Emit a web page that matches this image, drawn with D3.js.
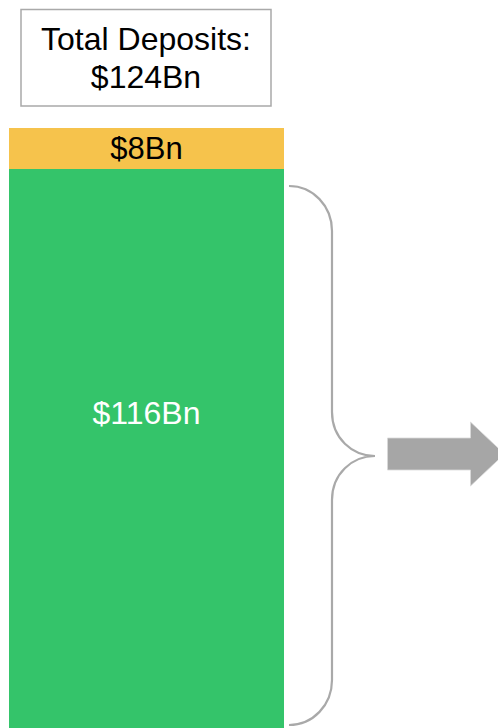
<!DOCTYPE html>
<html>
<head>
<meta charset="utf-8">
<script src="https://cdn.jsdelivr.net/npm/d3@7"></script>
<style>
  html, body { margin: 0; padding: 0; background: #fff; }
  svg { display: block; font-family: Arial, "Liberation Sans", sans-serif; }
</style>
</head>
<body>
<script>
// Data
const categories = ["Other deposits", "Core deposits"];
const values = [8, 116];
const labels = ["$8Bn", "$116Bn"];
const totalLabel = ["Total Deposits:", "$124Bn"];
const colors = ["#F6C34C", "#34C46A"];
const labelColors = ["#000000", "#ffffff"];

(function () {
const W = 498, H = 728;
const svg = d3.select("body").append("svg").attr("width", W).attr("height", H);

const total = d3.sum(values);
const x = d3.scaleBand().domain(["Deposits"]).range([9, 284]).padding(0);
const pxPerUnit = 41 / 8;
const y = d3.scaleLinear().domain([0, total]).range([128, 128 + total * pxPerUnit]);

// stacked segments
let acc = 0;
const segs = values.map((v, i) => { const s = { cat: categories[i], v, y0: acc, y1: acc + v, i }; acc += v; return s; });

svg.selectAll("rect.seg").data(segs).join("rect")
  .attr("class", "seg")
  .attr("x", x("Deposits"))
  .attr("width", x.bandwidth())
  .attr("y", d => y(d.y0))
  .attr("height", d => y(d.y1) - y(d.y0))
  .attr("fill", d => colors[d.i]);

// labels
const labelPos = [0.5, 0.41];
const labelSize = [31, 32];
svg.selectAll("text.seglab").data(segs).join("text")
  .attr("class", "seglab")
  .attr("x", x("Deposits") + x.bandwidth() / 2)
  .attr("y", d => y(d.y0 + d.v * labelPos[d.i]))
  .attr("dy", "0.35em")
  .attr("text-anchor", "middle")
  .attr("font-size", d => labelSize[d.i])
  .attr("fill", d => labelColors[d.i])
  .text(d => labels[d.i]);

// total box
svg.append("rect")
  .attr("x", 21).attr("y", 9.5).attr("width", 250).attr("height", 96.5)
  .attr("fill", "#fff").attr("stroke", "#a9a9a9").attr("stroke-width", 1.5);
svg.selectAll("text.tot").data(totalLabel).join("text")
  .attr("class", "tot")
  .attr("x", 146)
  .attr("y", (d, i) => 50 + i * 38)
  .attr("text-anchor", "middle")
  .attr("font-size", 32)
  .attr("fill", "#000")
  .text(d => d);

// brace
const bx0 = 289, bx1 = 332, tipX = 375, tipY = 456, bTop = 186, bBot = 725;
const p = d3.path();
p.moveTo(bx0, bTop);
p.bezierCurveTo(bx0 + 24, bTop, bx1, bTop + 20, bx1, bTop + 45);
p.lineTo(bx1, tipY - 44);
p.bezierCurveTo(bx1, tipY - 18, bx1 + 20, tipY, tipX, tipY);
p.bezierCurveTo(bx1 + 20, tipY, bx1, tipY + 18, bx1, tipY + 44);
p.lineTo(bx1, bBot - 45);
p.bezierCurveTo(bx1, bBot - 20, bx0 + 24, bBot, bx0, bBot);
svg.append("path").attr("d", p.toString())
  .attr("fill", "none").attr("stroke", "#a9a9a9").attr("stroke-width", 2.2);

// arrow
const ay = 454;
const arrowPts = [
  [387.5, ay - 16], [470.5, ay - 16], [470.5, ay - 32], [504.5, ay],
  [470.5, ay + 32], [470.5, ay + 16], [387.5, ay + 16]
];
svg.append("polygon")
  .attr("points", arrowPts.map(q => q.join(",")).join(" "))
  .attr("fill", "#a6a6a6").attr("stroke", "#d9d9d9").attr("stroke-width", 0.8);
})();
</script>
</body>
</html>
